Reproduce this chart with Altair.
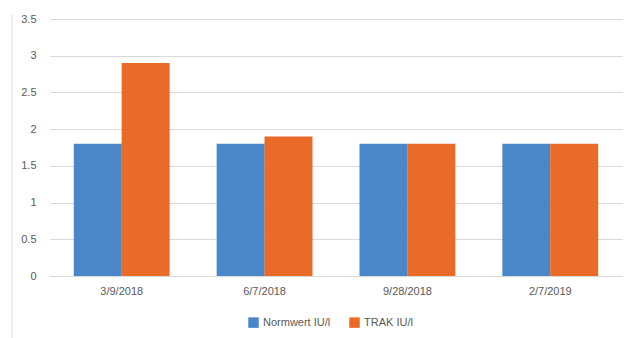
import altair as alt
import pandas as pd

dates = ["3/9/2018", "6/7/2018", "9/28/2018", "2/7/2019"]
normwert = [1.8, 1.8, 1.8, 1.8]
trak = [2.9, 1.9, 1.8, 1.8]
series_names = ["Normwert IU/l", "TRAK IU/l"]
colors = ["#4a87c9", "#ea6a28"]

rows = []
for i, d in enumerate(dates):
    rows.append({"date": d, "series": series_names[0], "value": normwert[i]})
    rows.append({"date": d, "series": series_names[1], "value": trak[i]})
df = pd.DataFrame(rows)

font = "Liberation Sans"

bars = alt.Chart(df).mark_bar(size=48).encode(
    x=alt.X("date:N", sort=dates, title=None,
            scale=alt.Scale(paddingInner=0.33, paddingOuter=0.167),
            axis=alt.Axis(labelAngle=0, labelColor="#595959", labelFont=font, labelFontSize=11,
                          domainColor="#d9d9d9", ticks=False, labelPadding=9)),
    xOffset=alt.XOffset("series:N", sort=series_names, scale=alt.Scale(paddingInner=0, paddingOuter=0)),
    y=alt.Y("value:Q", title=None,
            scale=alt.Scale(domain=[0, 3.5], nice=False),
            axis=alt.Axis(values=[0, 0.5, 1, 1.5, 2, 2.5, 3, 3.5], format="~g",
                          labelColor="#595959", labelFont=font, labelFontSize=11,
                          domain=False, ticks=False, gridColor="#d9d9d9", labelPadding=14)),
    color=alt.Color("series:N", sort=series_names,
                    scale=alt.Scale(domain=series_names, range=colors),
                    legend=alt.Legend(title=None, orient="none", direction="horizontal",
                                      legendX=198, legendY=298, symbolType="square",
                                      symbolSize=110, symbolStrokeWidth=0,
                                      labelColor="#595959", labelFont=font, labelFontSize=11,
                                      columnPadding=18, symbolOffset=0)),
)

frame = alt.Chart(pd.DataFrame({"a": [0]})).mark_rule(color="#d9d9d9", strokeWidth=1).encode(
    x=alt.value(-38), y=alt.value(-4), y2=alt.value(319)
)

chart = alt.layer(frame, bars).properties(
    width=572, height=257,
    padding={"left": 50, "top": 19, "right": 9, "bottom": 62},
    autosize=alt.AutoSizeParams(type="none"),
    background="white",
).configure_view(stroke=None)

chart.save("out.html", embed_options={"renderer": "svg", "actions": False})
